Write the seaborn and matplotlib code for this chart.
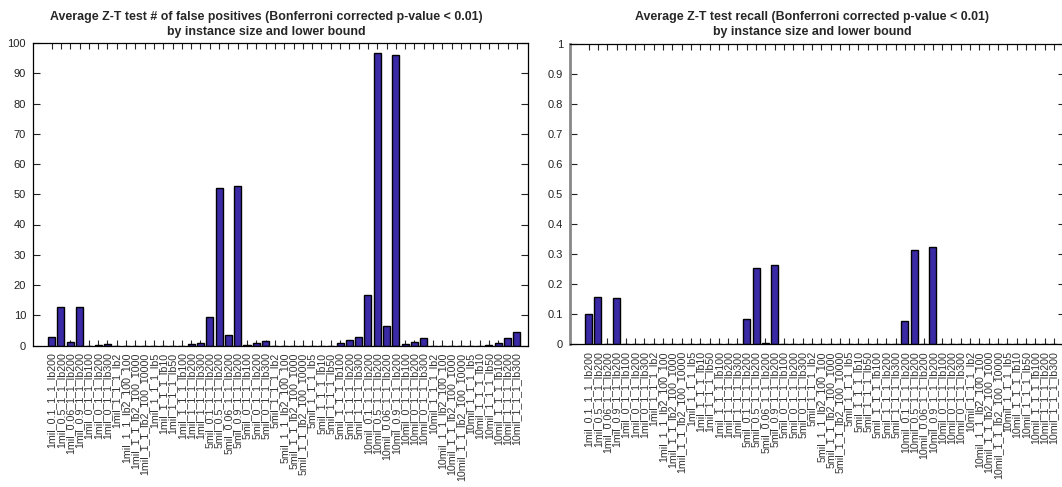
import matplotlib
matplotlib.use("Agg")
import matplotlib.pyplot as plt
import seaborn as sns
import numpy as np

sns.set_theme(style="white")
plt.rcParams['font.family'] = ['Liberation Sans', 'DejaVu Sans']

prefixes = ["1mil", "5mil", "10mil"]
suffixes = ["0.1_1_1_lb200", "0.5_1_1_lb200", "0.06_1_1_lb200", "0.9_1_1_lb200",
            "0_1_1_lb100", "0_1_1_lb200", "0_1_1_lb300", "1_1_1_lb2",
            "1_1_lb2_100_100", "1_1_lb2_100_1000", "1_1_lb2_100_10000",
            "1_1_1_lb5", "1_1_1_lb10", "1_1_1_lb50", "1_1_1_lb100",
            "1_1_1_lb200", "1_1_1_lb300"]
categories = [f"{p}_{s}" for p in prefixes for s in suffixes]

false_positives = [
    2.75, 12.6, 1.1, 12.7, 0.0, 0.3, 0.55, 0.0, 0.0, 0.0, 0.0, 0.0, 0.0, 0.0, 0.0, 0.45, 0.95,
    9.5, 52.0, 3.5, 52.7, 0.25, 0.9, 1.5, 0.0, 0.0, 0.0, 0.0, 0.0, 0.0, 0.0, 0.75, 1.9, 2.75,
    16.6, 96.8, 6.4, 96.0, 0.55, 1.2, 2.4, 0.0, 0.0, 0.0, 0.0, 0.0, 0.0, 0.2, 0.9, 2.6, 4.5,
]
recall = [
    0.100, 0.157, 0.0, 0.153, 0.0, 0.0, 0.0, 0.0, 0.0, 0.0, 0.0, 0.0, 0.0, 0.0, 0.0, 0.0, 0.0,
    0.084, 0.256, 0.004, 0.263, 0.0, 0.0, 0.0, 0.0, 0.0, 0.0, 0.0, 0.0, 0.0, 0.0, 0.0, 0.0, 0.0,
    0.077, 0.314, 0.0, 0.323, 0.0, 0.0, 0.0, 0.0, 0.0, 0.0, 0.0, 0.0, 0.0, 0.0, 0.0, 0.0, 0.0,
]

titles = ["Average Z-T test # of false positives (Bonferroni corrected p-value < 0.01)\nby instance size and lower bound",
          "Average Z-T test recall (Bonferroni corrected p-value < 0.01)\nby instance size and lower bound"]
yticks_left = [0, 10, 20, 30, 40, 50, 60, 70, 80, 90, 100]
yticks_right = [0, 0.1, 0.2, 0.3, 0.4, 0.5, 0.6, 0.7, 0.8, 0.9, 1]
ytick_labels_right = ["0", "0.1", "0.2", "0.3", "0.4", "0.5", "0.6", "0.7", "0.8", "0.9", "1"]

W, H = 1062, 487
fig = plt.figure(figsize=(W / 100, H / 100), dpi=100)
bar_color = "#3a2aa6"

def px_axes(x0, x1, ytop, ybot):
    return fig.add_axes([x0 / W, 1 - ybot / H, (x1 - x0) / W, (ybot - ytop) / H])

ax1 = px_axes(33, 528, 43, 345.5)
ax2 = px_axes(570, 1065, 44.3, 344.3)

for ax, vals, ymax, yt, ytl, title, tx in [
        (ax1, false_positives, 100, yticks_left, [str(v) for v in yticks_left], titles[0], 266.5),
        (ax2, recall, 1, yticks_right, ytick_labels_right, titles[1], 812)]:
    sns.barplot(x=categories, y=vals, ax=ax, color=bar_color, edgecolor="black",
                linewidth=1.0, width=0.76, saturation=1)
    ax.set_xlim(-2, 51.2)
    ax.set_ylim(0, ymax)
    ax.set_yticks(yt)
    ax.set_yticklabels(ytl)
    ax.set_xlabel("")
    ax.set_ylabel("")
    ax.set_xticks(range(len(categories)))
    ax.set_xticklabels(categories, rotation=90, fontsize=7.7, va="top", ha="center", color="#333333")
    ax.tick_params(axis="y", labelsize=8, direction="in", length=5, width=0.8,
                   left=True, right=True, pad=5, colors="#222222")
    ax.tick_params(axis="x", direction="in", length=4, width=0.8,
                   bottom=True, top=True, pad=5)
    for sp in ax.spines.values():
        sp.set_color("black")
        sp.set_linewidth(0.9)
        sp.set_visible(True)
    ax.grid(False)
    fig.text(tx / W, 1 - 11 / H, title, ha="center", va="top", fontsize=8.9,
             fontweight="bold", linespacing=1.3)

ax2.spines["left"].set_color("#888888")
ax2.spines["left"].set_linewidth(2)

fig.savefig("out.png", dpi=100)
